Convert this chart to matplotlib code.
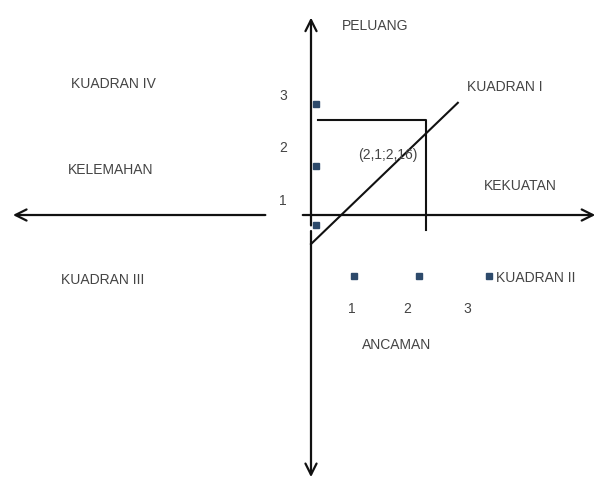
import numpy as np
import matplotlib
matplotlib.use('Agg')
import matplotlib.pyplot as plt

# point of the analysis (x = strength-weakness, y = opportunity-threat)
pt_x = 2.1
pt_y = 2.16
pt_label = '(2,1;2,16)'

# marker squares on the axes
y_marks = [2.52, 1.11, -0.23]
x_marks = [0.78, 1.96, 3.24]

# tick numbers
x_ticks = [0.75, 1.75, 2.85]
x_tick_labels = ['1', '2', '3']
y_ticks = [2.70, 1.52, 0.32]
y_tick_labels = ['3', '2', '1']

# quadrant / axis names
quad_names = ['KUADRAN I', 'KUADRAN II', 'KUADRAN III', 'KUADRAN IV']
axis_names = ['PELUANG', 'KEKUATAN', 'ANCAMAN', 'KELEMAHAN']

plt.rcParams['font.family'] = ['Liberation Sans', 'DejaVu Sans']
fig = plt.figure(figsize=(6, 4.83), dpi=100)
ax = fig.add_axes([0, 0, 1, 1])
ax.set_xlim(-5.655, 5.255)
ax.set_ylim(-6.09, 4.886)
ax.axis('off')

lc = '#111111'
tc = '#444444'
fs = 10
arr = dict(arrowstyle='->', color=lc, lw=1.6, mutation_scale=20)

# axes with arrows
ax.annotate('', xy=(0, 4.55), xytext=(0, -0.3), arrowprops=arr)
ax.annotate('', xy=(0, -6.02), xytext=(0, -0.3), arrowprops=arr)
ax.annotate('', xy=(-5.47, 0), xytext=(-0.78, 0), arrowprops=arr)
ax.annotate('', xy=(5.22, 0), xytext=(-0.2, 0), arrowprops=arr)

# diagonal line
ax.plot([0, 2.67], [-0.66, 2.55], color=lc, lw=1.5)

# box to the point
ax.plot([0.13, pt_x, pt_x], [pt_y, pt_y, -0.34], color=lc, lw=1.5)
ax.text(1.4, 1.36, pt_label, fontsize=fs, color=tc, ha='center', va='center')

# square markers
ax.plot([0.09] * len(y_marks), y_marks, 's', color='#2d4a6b', ms=4)
ax.plot(x_marks, [-1.39] * len(x_marks), 's', color='#2d4a6b', ms=4)

for xv, s in zip(x_ticks, x_tick_labels):
    ax.text(xv, -2.14, s, fontsize=fs, color=tc, ha='center', va='center')
for yv, s in zip(y_ticks, y_tick_labels):
    ax.text(-0.51, yv, s, fontsize=fs, color=tc, ha='center', va='center')

# labels
ax.text(1.16, 4.3, axis_names[0], fontsize=fs, color=tc, ha='center', va='center')
ax.text(3.8, 0.66, axis_names[1], fontsize=fs, color=tc, ha='center', va='center')
ax.text(1.56, -2.95, axis_names[2], fontsize=fs, color=tc, ha='center', va='center')
ax.text(-3.65, 1.02, axis_names[3], fontsize=fs, color=tc, ha='center', va='center')

ax.text(3.53, 2.9, quad_names[0], fontsize=fs, color=tc, ha='center', va='center')
ax.text(4.08, -1.43, quad_names[1], fontsize=fs, color=tc, ha='center', va='center')
ax.text(-3.78, -1.48, quad_names[2], fontsize=fs, color=tc, ha='center', va='center')
ax.text(-3.6, 2.98, quad_names[3], fontsize=fs, color=tc, ha='center', va='center')

fig.savefig('out.png', dpi=100, facecolor='white')
